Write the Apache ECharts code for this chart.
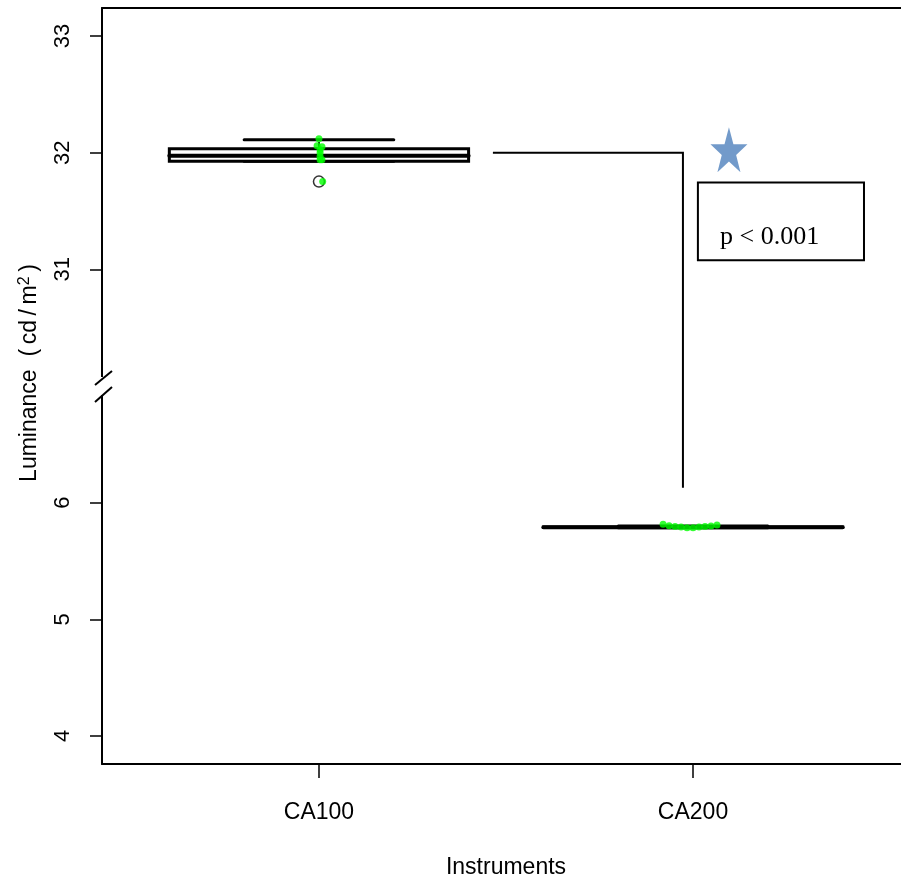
<!DOCTYPE html>
<html>
<head>
<meta charset="utf-8">
<script src="https://cdn.jsdelivr.net/npm/echarts@6/dist/echarts.min.js"></script>
<style>html,body{margin:0;padding:0;background:#fff}#c{width:901px;height:882px}</style>
</head>
<body>
<div id="c"></div>
<script>
// ---- data ----
const categories = ['CA100', 'CA200'];
const catX = [1, 2];
// [min, Q1, median, Q3, max] in cd/m2
const boxStats = [
  [31.927, 31.927, 31.974, 32.034, 32.111],
  [5.786, 5.788, 5.790, 5.792, 5.800]
];
const outlierCat = [1];
const outlierVal = [31.752];
// jittered raw points
const ptsCA100x = [1.000, 0.995, 1.008, 1.003, 1.003, 1.003, 1.003, 1.008, 1.010];
const ptsCA100y = [32.120, 32.060, 32.050, 32.025, 32.000, 31.967, 31.940, 31.940, 31.752];
const ptsCA200x = [1.920, 1.936, 1.952, 1.968, 1.984, 2.000, 2.016, 2.032, 2.048, 2.064];
const ptsCA200y = [5.816, 5.803, 5.795, 5.791, 5.786, 5.786, 5.791, 5.795, 5.799, 5.808];
const yTickVals = [4, 5, 6, 31, 32, 33];
// significance annotation (data coordinates)
const bracketX = [1.465, 1.973];
const bracketY = [32.0, 6.128];
const starPos = [2.096, 32.026];
const pBoxX = [2.013, 2.457];
const pBoxY = [31.077, 31.744];
const pTextPos = [2.072, 31.274];
const pText = 'p < 0.001';
const yTitle = 'Luminance  (\u2009cd\u2009/\u2009m{sup|2}\u2009)';
const xTitle = 'Instruments';

// ---- broken axis transform ----
const BREAK = 7;
function tr(v) { return v > 20 ? v - 23 : v; }
function inv(t) { return t > BREAK ? t + 23 : t; }

const SANS = '"Liberation Sans", Arial, sans-serif';
const SERIF = '"Liberation Serif", "Times New Roman", serif';

const chart = echarts.init(document.getElementById('c'), null, {renderer: 'canvas'});

const boxData = boxStats.map((s, i) => [catX[i]].concat(s.map(tr)));

function renderBox(params, api) {
  const x = api.value(0);
  const mn = api.value(1), q1 = api.value(2), md = api.value(3), q3 = api.value(4), mx = api.value(5);
  const hw = 0.4, sw = 0.2;
  const c = (a, b) => api.coord([a, b]);
  const black = '#000';
  const line = (p1, p2, w, dash) => ({
    type: 'line',
    shape: {x1: p1[0], y1: p1[1], x2: p2[0], y2: p2[1]},
    style: {stroke: black, lineWidth: w, lineDash: dash || null, lineCap: 'round'}
  });
  const tl = c(x - hw, q3), br = c(x + hw, q1);
  return {
    type: 'group',
    children: [
      line(c(x, q3), c(x, mx), 2, [6, 4]),
      line(c(x, q1), c(x, mn), 2, [6, 4]),
      line(c(x - sw, mx), c(x + sw, mx), 3),
      line(c(x - sw, mn), c(x + sw, mn), 3),
      {type: 'rect', shape: {x: tl[0], y: tl[1], width: br[0] - tl[0], height: br[1] - tl[1]},
       style: {fill: '#fff', stroke: black, lineWidth: 3}},
      line(c(x - hw, md), c(x + hw, md), 4)
    ]
  };
}

function renderAnno(params, api) {
  const c = (a, b) => api.coord([a, tr(b)]);
  const a = c(bracketX[0], bracketY[0]);
  const b = c(bracketX[1], bracketY[0]);
  const d = c(bracketX[1], bracketY[1]);
  const r1 = c(pBoxX[0], pBoxY[1]);
  const r2 = c(pBoxX[1], pBoxY[0]);
  const tp = c(pTextPos[0], pTextPos[1]);
  return {
    type: 'group',
    children: [
      {type: 'polyline', shape: {points: [a, b, d]}, style: {stroke: '#000', lineWidth: 2, fill: null}},
      {type: 'rect', shape: {x: r1[0], y: r1[1], width: r2[0] - r1[0], height: r2[1] - r1[1]},
       style: {fill: '#fff', stroke: '#000', lineWidth: 2}},
      {type: 'text', x: tp[0], y: tp[1],
       style: {text: pText, fill: '#000', font: '26px ' + SERIF, align: 'left', verticalAlign: 'middle'}}
    ]
  };
}

const starPath = 'path://M50,0 L61.8,35.5 L99,35.5 L69,57.5 L80.5,93 L50,71 L19.5,93 L31,57.5 L1,35.5 L38.2,35.5 Z';

const pts = ptsCA100x.map((x, i) => [x, tr(ptsCA100y[i])])
  .concat(ptsCA200x.map((x, i) => [x, tr(ptsCA200y[i])]));

chart.setOption({
  animation: false,
  backgroundColor: '#fff',
  grid: {left: 102, top: 8, width: 808, height: 756, containLabel: false, outerBoundsMode: 'none'},
  xAxis: [{
    type: 'value', min: 0.42, max: 2.58,
    axisLine: {show: true, onZero: false, lineStyle: {color: '#000', width: 2}},
    axisTick: {show: true, customValues: catX, length: 14, lineStyle: {color: '#000', width: 1.5}},
    axisLabel: {show: true, customValues: catX, margin: 37, color: '#000', fontSize: 23, fontFamily: SANS,
      formatter: v => categories[catX.indexOf(Math.round(v))] || ''},
    splitLine: {show: false},
    name: xTitle, nameLocation: 'middle', nameGap: 92,
    nameTextStyle: {color: '#000', fontSize: 23, fontFamily: SANS}
  }, {
    type: 'value', min: 0.42, max: 2.58, position: 'top',
    axisLine: {show: true, onZero: false, lineStyle: {color: '#000', width: 2}},
    axisTick: {show: false}, axisLabel: {show: false}, splitLine: {show: false}
  }],
  yAxis: {
    type: 'value', min: 3.76, max: 10.24,
    axisLine: {show: true, onZero: false, lineStyle: {color: '#000', width: 2}},
    axisTick: {show: true, customValues: yTickVals.map(tr), length: 12, lineStyle: {color: '#000', width: 1.5}},
    axisLabel: {show: true, customValues: yTickVals.map(tr), rotate: 90, margin: 28, color: '#000',
      fontSize: 22, fontFamily: SANS, formatter: v => String(Math.round(inv(v)))},
    splitLine: {show: false}
  },
  series: [
    {type: 'custom', renderItem: renderBox, data: boxData, encode: {x: 0, y: [1, 2, 3, 4, 5]}, z: 2},
    {type: 'scatter', data: outlierVal.map((v, i) => [outlierCat[i], tr(v)]), symbol: 'circle', symbolSize: 11,
     itemStyle: {color: '#fff', borderColor: '#000', borderWidth: 1.5}, z: 3},
    {type: 'scatter', data: pts, symbol: 'circle', symbolSize: 7, itemStyle: {color: '#00ff00'}, z: 4},
    {type: 'custom', renderItem: renderAnno, data: [[0, 0]], z: 5, silent: true},
    {type: 'scatter', data: [[starPos[0], tr(starPos[1])]], symbol: starPath, symbolSize: [37, 45],
     symbolKeepAspect: false, itemStyle: {color: '#4f81bd'}, z: 6}
  ]
});

// broken-axis marker and y title
const bp = chart.convertToPixel({gridIndex: 0}, [0.42, BREAK]);
const px = bp[0], py = bp[1];
chart.setOption({
  graphic: [
    {type: 'rect', shape: {x: px - 4, y: py - 9, width: 8, height: 18}, style: {fill: '#fff'}, z: 100},
    {type: 'line', shape: {x1: px - 7, y1: py - 1, x2: px + 10, y2: py - 15}, style: {stroke: '#000', lineWidth: 2}, z: 101},
    {type: 'line', shape: {x1: px - 7, y1: py + 16, x2: px + 10, y2: py + 1}, style: {stroke: '#000', lineWidth: 2}, z: 101},
    {type: 'text', x: px - 72, y: py - 13, rotation: Math.PI / 2, z: 100,
     style: {text: yTitle, fill: '#000', font: '23px ' + SANS, align: 'center', verticalAlign: 'middle',
       rich: {sup: {fontSize: 16, fontFamily: SANS, fill: '#000', verticalAlign: 'top', padding: [0, 0, 10, 0]}}}}
  ]
});
</script>
</body>
</html>
